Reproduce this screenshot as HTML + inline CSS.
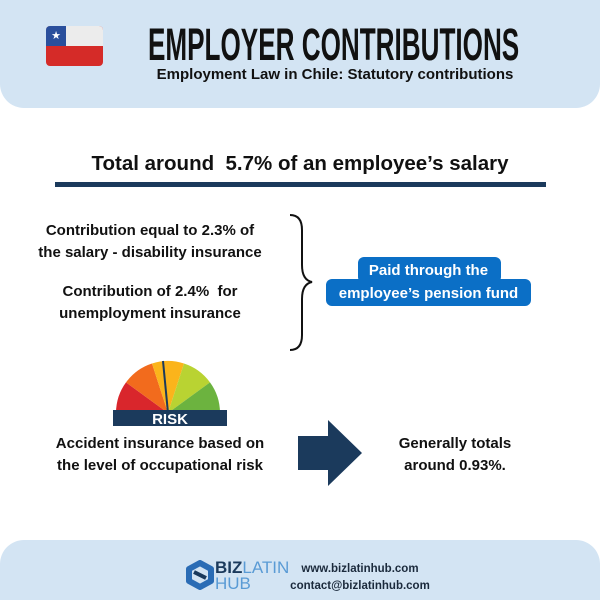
<!DOCTYPE html>
<html><head><meta charset="utf-8"><style>
body{margin:0;width:600px;height:600px;background:#fff;position:relative;overflow:hidden;font-family:"Liberation Sans",sans-serif;color:#111;}
.a{position:absolute;}
.t{position:absolute;font-weight:bold;white-space:nowrap;text-align:center;}
.pill{position:absolute;background:#0b6fc6;border-radius:6px;}
</style></head><body>
<div class="a" style="left:0;top:0;width:600px;height:108px;background:#d3e4f3;border-radius:0 0 24px 24px;"></div>
<div class="a" style="left:0;top:540px;width:600px;height:60px;background:#d3e4f3;border-radius:24px 24px 0 0;"></div>
<!-- flag -->
<div class="a" style="left:46px;top:26px;width:57px;height:40px;border-radius:4px;overflow:hidden;background:#d52b28;">
<div class="a" style="left:0;top:0;width:57px;height:20px;background:#ececec;"></div>
<div class="a" style="left:0;top:0;width:20px;height:20px;background:#2a4f9c;color:#fff;font-size:11px;line-height:20px;text-align:center;">★</div>
</div>
<div class="a" style="left:148px;top:22px;font-weight:bold;white-space:nowrap;font-size:45px;line-height:46px;transform:scaleX(0.58);transform-origin:left top;">EMPLOYER CONTRIBUTIONS</div>
<div class="t" style="left:130px;top:66px;width:410px;font-size:15px;">Employment Law in Chile: Statutory contributions</div>

<div class="t" style="left:60px;top:152px;width:480px;font-size:20.5px;">Total around&nbsp; 5.7% of an employee’s salary</div>
<div class="a" style="left:55px;top:182px;width:491px;height:5px;background:#1b3a5c;"></div>

<div class="t" style="left:0;top:220px;width:300px;font-size:15px;line-height:22px;">Contribution equal to 2.3% of<br>the salary - disability insurance</div>
<div class="t" style="left:0;top:281px;width:300px;font-size:15px;line-height:22px;">Contribution of 2.4%&nbsp; for<br>unemployment insurance</div>
<svg class="a" style="left:280px;top:210px" width="40" height="145"><path d="M10 5 Q22 5 22 20 L22 55 Q22 70 32 72 Q22 74 22 89 L22 125 Q22 140 10 140" fill="none" stroke="#111" stroke-width="2"/></svg>

<div class="pill" style="left:358px;top:257px;width:143px;height:26px;"></div>
<div class="pill" style="left:326px;top:279px;width:205px;height:27px;"></div>
<div class="t" style="left:326px;top:259px;width:205px;font-size:15px;line-height:23px;color:#fff;">Paid through the<br>employee’s pension fund</div>

<!-- gauge -->
<svg class="a" style="left:110px;top:355px" width="120" height="75">
<g transform="translate(58,58)">
<path d="M0 0 L-52 0 A52 52 0 0 1 -42 -30.6 Z" fill="#d9262c"/>
<path d="M0 0 L-42 -30.6 A52 52 0 0 1 -16 -49.5 Z" fill="#f26b1d"/>
<path d="M0 0 L-16 -49.5 A52 52 0 0 1 16 -49.5 Z" fill="#fbb41b"/>
<path d="M0 0 L16 -49.5 A52 52 0 0 1 42 -30.6 Z" fill="#b9d332"/>
<path d="M0 0 L42 -30.6 A52 52 0 0 1 52 0 Z" fill="#6cb33f"/>
<line x1="0" y1="0" x2="-5" y2="-52" stroke="#1b3a5c" stroke-width="2"/>
</g>
<rect x="3" y="55" width="114" height="16" fill="#1b3a5c"/>
<text x="60" y="69" text-anchor="middle" font-family="Liberation Sans" font-weight="bold" font-size="15" fill="#fff">RISK</text>
</svg>
<div class="t" style="left:10px;top:433px;width:300px;font-size:15px;line-height:22px;">Accident insurance based on<br>the level of occupational risk</div>
<svg class="a" style="left:298px;top:420px" width="66" height="66"><polygon points="0,16 30,16 30,0 64,33 30,66 30,50 0,50" fill="#1b3a5c"/></svg>
<div class="t" style="left:355px;top:433px;width:200px;font-size:15px;line-height:22px;">Generally totals<br>around 0.93%.</div>

<!-- footer logo -->
<svg class="a" style="left:186px;top:560px" width="28" height="30"><g fill="none" stroke="#2a6cb5" stroke-width="6" stroke-linejoin="round"><polygon points="14,3 25,9 25,21 14,27 3,21 3,9"/></g><path d="M8 12 L20 18" stroke="#1b3a5c" stroke-width="4"/></svg>
<div class="a" style="left:215px;top:560px;font-size:17px;line-height:16px;color:#1b3a5c;"><b>BIZ</b><span style="color:#5a9bd5">LATIN</span><br><span style="color:#5a9bd5">HUB</span></div>
<div class="t" style="left:285px;top:561px;width:150px;font-size:11.5px;line-height:17px;color:#1b2a3c;">www.bizlatinhub.com<br>contact@bizlatinhub.com</div>
</body></html>
